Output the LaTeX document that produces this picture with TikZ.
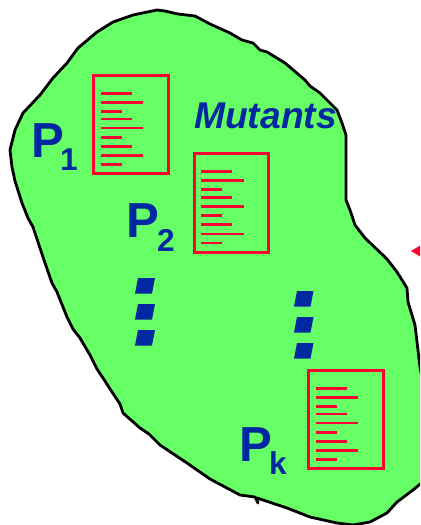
\documentclass[tikz,border=0pt]{standalone}
\usepackage{fontspec}
\setmainfont{Liberation Sans}
\usepackage{tikz}
\usetikzlibrary{positioning,calc}
\definecolor{blobgreen}{RGB}{102,255,102}
\definecolor{pblue}{RGB}{0,40,160}
\definecolor{docred}{RGB}{255,0,51}
\tikzset{
  docframe/.style={rectangle,draw=docred,line width=1.5pt,minimum width=1.49cm,minimum height=1.97cm,inner sep=0pt},
  docline/.style={docred,line width=1.45pt},
  plabel/.style={text=pblue,font=\fontsize{28}{28}\selectfont\bfseries,inner sep=0pt},
  psub/.style={text=pblue,font=\fontsize{18}{18}\selectfont\bfseries,inner sep=0pt},
  dotmark/.style={fill=pblue,draw=none}
}
\begin{document}
\begin{tikzpicture}[x=0.02cm,y=-0.02cm]
\clip (0,0) rectangle (420,525);
% blob
\draw[fill=blobgreen,draw=black,line width=1.6pt,line join=round]
  (157,10) -- (165,11) -- (178,14) -- (195,16) -- (210,24) -- (230,33) -- (242,40) -- (253,43) -- (260,50)
  -- (267,52) -- (285,63) -- (305,80) -- (310,86) -- (320,93) -- (337,110) -- (342,123) -- (346,135)
  -- (346,200) -- (350,210) -- (355,225) -- (365,238) -- (387,259) -- (397,272) -- (407,288) -- (408,302)
  -- (415,325) -- (420,367) -- (430,420) -- (425,480) -- (413,490) -- (397,502) -- (387,513) -- (370,522)
  -- (353,525) -- (337,523) -- (310,517) -- (287,508) -- (257,498) -- (258,503) -- (255,497) -- (240,495)
  -- (210,479) -- (187,463) -- (160,445) -- (149,434) -- (140,428) -- (123,413) -- (120,404) -- (112,392)
  -- (103,378) -- (97,369) -- (90,355) -- (80,338) -- (73,329) -- (67,317) -- (57,292) -- (52,283) -- (45,263)
  -- (43,257) -- (33,227) -- (28,218) -- (22,203) -- (15,181) -- (12,167)
  -- (10,150) -- (15,130) -- (23,113) -- (40,95) -- (53,78) -- (67,63) -- (78,48) -- (97,32)
  -- (113,22) -- (133,15) -- cycle;
% documents
\node[docframe] (docone) at (131,124.5) {};
\node[docframe] (doctwo) at (231.5,203) {};
\node[docframe] (dockay) at (346,419.5) {};
\foreach \docname in {docone,doctwo,dockay}{
  \foreach \ly/\lx in {19.3/31,28.3/42.5,37.3/21,45/31,54/42.5,63.3/21,72.3/31,81.7/42.5,90.7/21}{
    \draw[docline] ([shift={(8.5,\ly)}]\docname.north west) -- ++(\lx,0);
  }
}
% labels
\node[plabel] (pone) at (47.5,140.5) {P};
\node[psub] (poneidx) at (69,160) {1};
\node[plabel] (ptwo) at (142.5,221) {P};
\node[psub] (ptwoidx) at (166,240) {2};
\node[plabel] (pkay) at (256,445) {P};
\node[psub] (pkayidx) at (278,463) {k};
\node[text=pblue,font=\fontsize{21.2}{21.2}\selectfont\bfseries\itshape,inner sep=0pt] (mutants) at (265.5,116) {Mutants};
% dots
\foreach \dy in {278,304,330}{
  \fill[dotmark] (138,\dy) -- (155,\dy) -- (152,\dy+15.5) -- (135,\dy+15.5) -- cycle;
}
\foreach \dy in {291,317,343}{
  \fill[dotmark] (297,\dy) -- (313.5,\dy) -- (310.5,\dy+15.5) -- (294,\dy+15.5) -- cycle;
}
% arrow tip
\fill[docred] (411,251) -- (421,245) -- (421,257) -- cycle;
\end{tikzpicture}
\end{document}
